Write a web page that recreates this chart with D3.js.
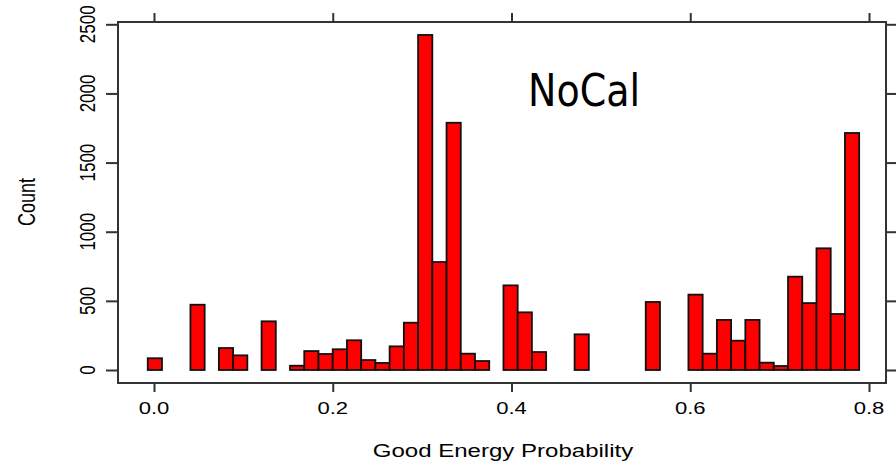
<!DOCTYPE html>
<html>
<head>
<meta charset="utf-8">
<script src="https://cdn.jsdelivr.net/npm/d3@7"></script>
<style>
  body { margin: 0; background: #fff; }
  svg text { font-family: "Liberation Sans", Arial, sans-serif; fill: #000; }
</style>
</head>
<body>
<div id="chart"><svg width="896" height="464"></svg></div>
<script>
// histogram: 50 equal bins between binLo and binHi
const binLo = -0.007, binHi = 0.789;
const counts = [
  85, 0, 0, 472, 0, 159, 106, 0, 352, 0,
  31, 137, 116, 150, 215, 72, 51, 171, 342, 2423,
  781, 1788, 118, 65, 0, 612, 417, 130, 0, 0,
  258, 0, 0, 0, 0, 492, 0, 0, 545, 118,
  362, 212, 362, 53, 29, 675, 484, 880, 405, 1714
];
const xTicks = [0, 0.2, 0.4, 0.6, 0.8];
const yTicks = [0, 500, 1000, 1500, 2000, 2500];
const title = "NoCal";
const xTitle = "Good Energy Probability";
const yTitle = "Count";

const frame = { left: 118, top: 22, right: 886, bottom: 383 };
const stretch = 1.3; // source picture is widened horizontally

const svg = d3.select("#chart svg");

const x = d3.scaleLinear().domain([0, 0.8]).range([154, 869]);
const y = d3.scaleLinear().domain([0, 2500]).range([370, 24.3]);

const bw = (binHi - binLo) / counts.length;
const bins = counts.map((c, i) => ({ x0: binLo + i * bw, x1: binLo + (i + 1) * bw, c }));

svg.append("g")
  .selectAll("rect")
  .data(bins)
  .enter()
  .append("rect")
  .attr("x", (d) => x(d.x0))
  .attr("width", (d) => x(d.x1) - x(d.x0))
  .attr("y", (d) => y(d.c))
  .attr("height", (d) => y(0) - y(d.c))
  .style("fill", "#ff0000")
  .style("stroke", "#111")
  .style("stroke-width", 1.8);

// frame
svg.append("rect")
  .attr("x", frame.left)
  .attr("y", frame.top)
  .attr("width", frame.right - frame.left)
  .attr("height", frame.bottom - frame.top)
  .style("fill", "none")
  .style("stroke", "#333")
  .style("stroke-width", 2);

function tickAxis(axis, tx, ty) {
  const g = svg.append("g")
    .attr("transform", `translate(${tx},${ty})`)
    .call(axis.tickFormat(""));
  g.select(".domain").remove();
  g.selectAll(".tick line").style("stroke", "#333").style("stroke-width", 2);
}
tickAxis(d3.axisLeft(y).tickValues(yTicks).tickSize(12), frame.left, 0);
tickAxis(d3.axisRight(y).tickValues(yTicks).tickSize(10), frame.right, 0);
tickAxis(d3.axisBottom(x).tickValues(xTicks).tickSize(9), 0, frame.bottom);
tickAxis(d3.axisTop(x).tickValues(xTicks).tickSize(9), 0, frame.top);

// tick labels
svg.append("g")
  .selectAll("text")
  .data(xTicks)
  .enter()
  .append("text")
  .attr("transform", (d) => `translate(${x(d)},414) scale(${stretch},1)`)
  .style("text-anchor", "middle")
  .style("font-size", "17px")
  .text((d) => d3.format(".1f")(d));

svg.append("g")
  .selectAll("text")
  .data(yTicks)
  .enter()
  .append("text")
  .attr("transform", (d) => `translate(95,${y(d)}) scale(${stretch},1) rotate(-90)`)
  .style("text-anchor", "middle")
  .style("font-size", "17px")
  .text((d) => d);

// axis titles
svg.append("text")
  .attr("transform", `translate(503,457) scale(${stretch},1)`)
  .style("text-anchor", "middle")
  .style("font-size", "18.5px")
  .text(xTitle);

svg.append("text")
  .attr("transform", `translate(35,202) scale(${stretch},1) rotate(-90)`)
  .style("text-anchor", "middle")
  .style("font-size", "18px")
  .text(yTitle);

svg.append("text")
  .attr("x", 528)
  .attr("y", 106)
  .attr("textLength", 112)
  .attr("lengthAdjust", "spacingAndGlyphs")
  .style("font-family", "'DejaVu Sans', sans-serif")
  .style("font-size", "45px")
  .text(title);
</script>
</body>
</html>
